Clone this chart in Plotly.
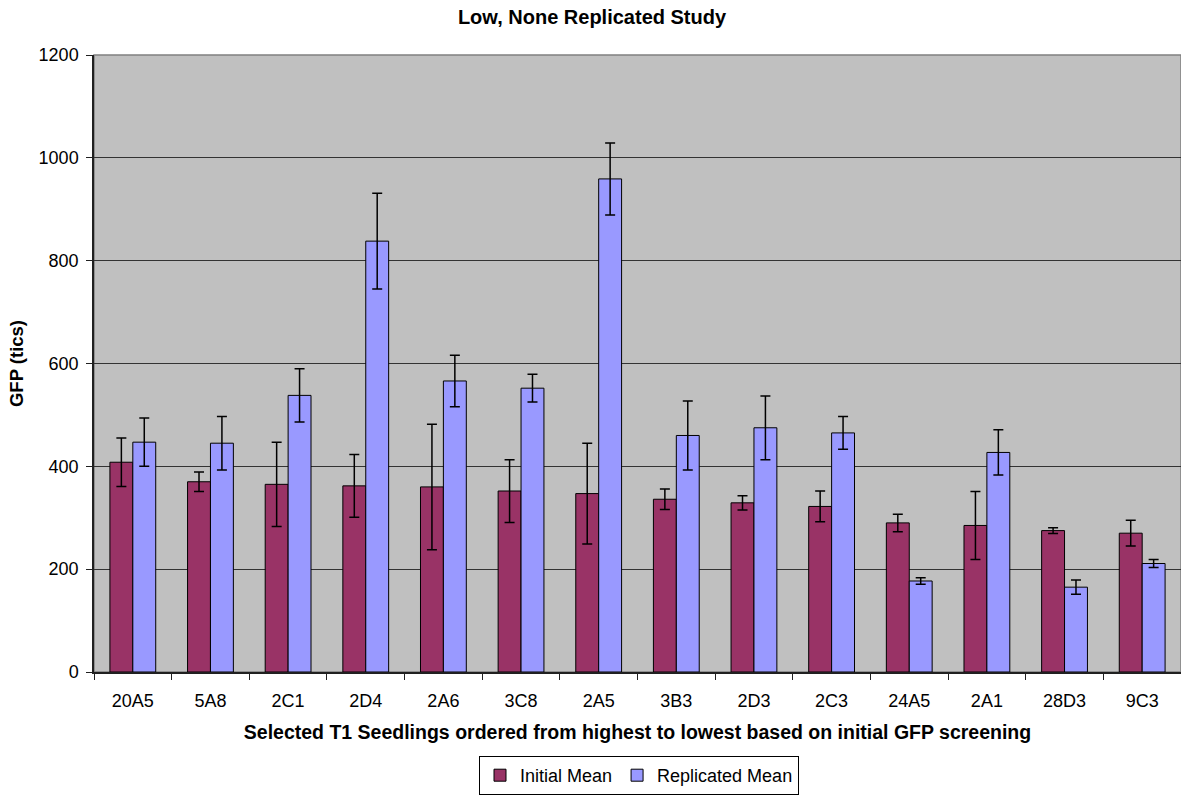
import plotly.graph_objects as go

categories = ["20A5", "5A8", "2C1", "2D4", "2A6", "3C8", "2A5", "3B3", "2D3", "2C3", "24A5", "2A1", "28D3", "9C3"]
initial_mean = [408, 370, 365, 362, 360, 352, 347, 336, 329, 322, 290, 285, 275, 270]
initial_err = [47, 19, 82, 61, 122, 61, 98, 20, 14, 30, 17, 66, 5.5, 25]
replicated_mean = [447, 445, 538, 838, 566, 552, 959, 460, 475, 465, 177, 427, 165, 211]
replicated_err = [47, 52, 52, 93, 50, 27, 70, 67, 62, 32, 6.5, 44, 14, 8]
y_ticks = [0, 200, 400, 600, 800, 1000, 1200]

font_family = "Liberation Sans, Arial, sans-serif"

W, H = 1181, 796
L, T, R, B = 94, 55, 0, 124
plot_w = W - L - R
plot_h = H - T - B

fig = go.Figure()
fig.add_trace(go.Bar(
    name="Initial Mean", x=categories, y=initial_mean,
    marker=dict(color="#993366", line=dict(color="black", width=1)),
    error_y=dict(type="data", array=initial_err, visible=True, color="black", thickness=1.5, width=5),
))
fig.add_trace(go.Bar(
    name="Replicated Mean", x=categories, y=replicated_mean,
    marker=dict(color="#9999FF", line=dict(color="black", width=1)),
    error_y=dict(type="data", array=replicated_err, visible=True, color="black", thickness=1.5, width=5),
))

fig.update_layout(
    width=W, height=H,
    margin=dict(l=L, r=R, t=T, b=B, autoexpand=False),
    paper_bgcolor="white",
    plot_bgcolor="#C0C0C0",
    barmode="group",
    bargap=0.41,
    bargroupgap=0,
    font=dict(family=font_family, size=18, color="black"),
    title=dict(text="<b>Low, None Replicated Study</b>", x=(592 - L) / plot_w, xref="paper",
               xanchor="center", y=1 - 17 / H, yanchor="middle", font=dict(size=20)),
    showlegend=True,
    legend=dict(orientation="h", x=(639 - L) / plot_w, xanchor="center",
                y=-84 / plot_h, yanchor="top",
                bordercolor="black", borderwidth=1, bgcolor="white",
                font=dict(size=18), traceorder="normal",
                itemwidth=30, tracegroupgap=0),
    xaxis=dict(
        type="category",
        tickson="boundaries",
        ticks="outside", ticklen=6, tickcolor="#202020",
        showline=True, linecolor="#202020", linewidth=1.5,
        showgrid=False,
        tickfont=dict(size=18),
        ticklabelstandoff=12,
        title=dict(text="<b>Selected T1 Seedlings ordered from highest to lowest based on initial GFP screening</b>",
                   font=dict(size=19.5), standoff=15),
    ),
    yaxis=dict(
        range=[0, 1200], tickvals=y_ticks,
        ticks="outside", ticklen=6, tickcolor="#202020",
        showline=True, linecolor="#202020", linewidth=1.5,
        showgrid=True, gridcolor="#333333", gridwidth=1,
        zeroline=False,
        tickfont=dict(size=18),
        ticklabelstandoff=4,
        title=dict(text="<b>GFP (tics)</b>", font=dict(size=18.5), standoff=10),
    ),
)
fig.add_shape(type="rect", xref="paper", yref="paper", x0=0, y0=0, x1=1, y1=1,
              line=dict(color="#808080", width=1.5), layer="below")

# remove the default page margin so the figure sits at the window's top-left corner
fig.write_html("out.html", config={"displayModeBar": False},
               post_script="document.body.style.margin='0px';")
